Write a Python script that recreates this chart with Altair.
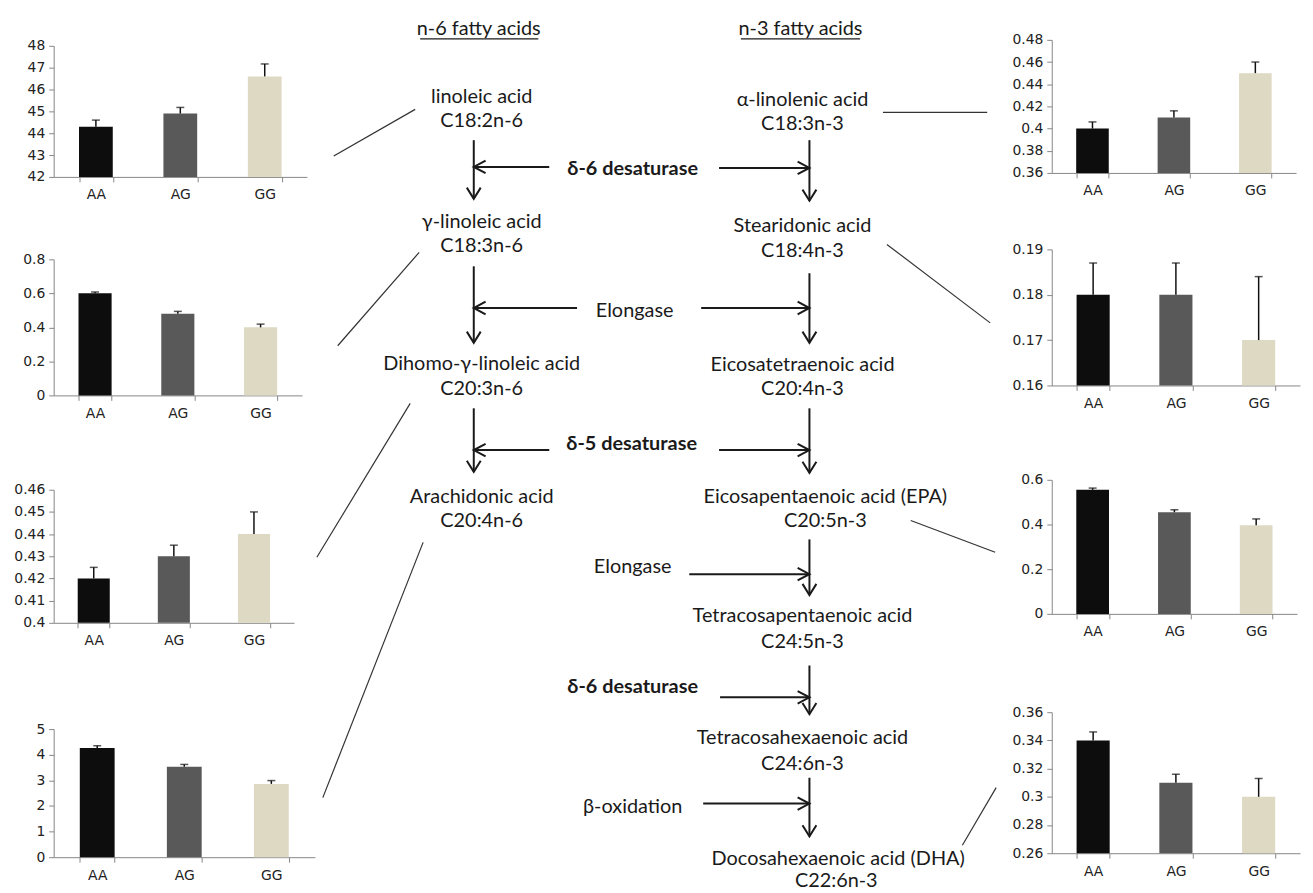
import altair as alt
import pandas as pd

genotypes = ["AA", "AG", "GG"]

# ---- n-6 panels (left column) ----
la_vals = [44.3, 44.9, 46.6]
la_err = [0.30, 0.28, 0.57]
la_ticks = [42, 43, 44, 45, 46, 47, 48]

gla_vals = [0.60, 0.48, 0.40]
gla_err = [0.008, 0.014, 0.019]
gla_ticks = [0, 0.2, 0.4, 0.6, 0.8]

dgla_vals = [0.42, 0.43, 0.44]
dgla_err = [0.005, 0.005, 0.01]
dgla_ticks = [0.4, 0.41, 0.42, 0.43, 0.44, 0.45, 0.46]

ara_vals = [4.26, 3.53, 2.86]
ara_err = [0.09, 0.09, 0.13]
ara_ticks = [0, 1, 2, 3, 4, 5]

# ---- n-3 panels (right column) ----
ala_vals = [0.40, 0.41, 0.45]
ala_err = [0.006, 0.006, 0.01]
ala_ticks = [0.36, 0.38, 0.4, 0.42, 0.44, 0.46, 0.48]

sda_vals = [0.18, 0.18, 0.17]
sda_err = [0.007, 0.007, 0.014]
sda_ticks = [0.16, 0.17, 0.18, 0.19]

epa_vals = [0.555, 0.455, 0.397]
epa_err = [0.008, 0.011, 0.028]
epa_ticks = [0, 0.2, 0.4, 0.6]

dha_vals = [0.34, 0.31, 0.30]
dha_err = [0.006, 0.006, 0.013]
dha_ticks = [0.26, 0.28, 0.3, 0.32, 0.34, 0.36]

base_colors = ["#0d0d0d", "#595959", "#ddd9c3"]

# ---- pathway diagram text ----
labels = [
    "n-6 fatty acids", "n-3 fatty acids",
    "linoleic acid", "C18:2n-6", "α-linolenic acid", "C18:3n-3",
    "γ-linoleic acid", "C18:3n-6", "Stearidonic acid", "C18:4n-3",
    "Elongase",
    "Dihomo-γ-linoleic acid", "C20:3n-6", "Eicosatetraenoic acid", "C20:4n-3",
    "Arachidonic acid", "C20:4n-6", "Eicosapentaenoic acid (EPA)", "C20:5n-3",
    "Elongase",
    "Tetracosapentaenoic acid", "C24:5n-3",
    "Tetracosahexaenoic acid", "C24:6n-3",
    "β-oxidation",
    "Docosahexaenoic acid (DHA)", "C22:6n-3",
]
bold_labels = ["δ-6 desaturase", "δ-5 desaturase", "δ-6 desaturase"]

# layout of the diagram (reference pixel space)
lab_x = [480, 804, 483, 483, 806, 806, 483, 483, 806, 806, 637,
         483, 483, 806, 806, 483, 483, 829, 829, 635, 806, 806, 806, 806,
         635, 842, 840]
lab_y = [23, 23, 92, 116, 95, 119, 217, 242, 221, 247, 307,
         360, 386, 361, 386, 494, 519, 494, 519, 565, 614, 640, 737, 763,
         807, 859, 881]
bold_x = [635, 634, 635]
bold_y = [164, 441, 686]

ul_x1 = [421, 744]
ul_x2 = [540, 864]
ul_y = [33, 33]

# vertical arrows: x, top, tip
v_x = [475, 813, 475, 813, 475, 813, 813, 813, 813]
v_top = [135, 135, 262, 269, 405, 405, 537, 664, 777]
v_tip = [194, 196, 339, 339, 469, 470, 593, 713, 836]
# horizontal arrows: start, tip, y
h_start = [551, 722, 579, 704, 551, 722, 692, 723, 706]
h_tip = [475, 813, 475, 813, 475, 813, 813, 813, 813]
h_y = [162, 163, 304, 304, 447, 447, 572, 696, 803]

# connector lines to panels
c_x1 = [334, 338, 317, 323, 887, 891, 915, 967]
c_y1 = [151, 342, 555, 797, 107, 240, 518, 845]
c_x2 = [416, 420, 411, 424, 992, 995, 1000, 1001]
c_y2 = [104, 248, 400, 540, 107, 319, 550, 787]

AXIS_GRAY = "#868686"
TICK_FONT = "DejaVu Sans"
TICK_SIZE = 14
DIA_FONT = "Lato, 'Noto Sans', sans-serif"


def bar_panel(vals, errs, ticks, width, height, colors=base_colors):
    df = pd.DataFrame({"g": genotypes, "v": vals, "e": errs})
    df["top"] = df["v"] + df["e"]
    lo, hi = ticks[0], ticks[-1]
    xscale = alt.Scale(domain=genotypes, paddingInner=0.6, paddingOuter=0.3)
    xaxis = alt.Axis(labelAngle=0, tickBand="extent", tickSize=5,
                     domainColor=AXIS_GRAY, tickColor=AXIS_GRAY,
                     labelPadding=6, labelFont=TICK_FONT, labelFontSize=TICK_SIZE,
                     labelColor="#222")
    yscale = alt.Scale(domain=[lo, hi], nice=False, zero=False)
    yaxis = alt.Axis(values=ticks, format="~g", grid=False, tickSize=5,
                     labelOverlap=False, labelBound=False,
                     domainColor=AXIS_GRAY, tickColor=AXIS_GRAY, labelPadding=4,
                     labelFont=TICK_FONT, labelFontSize=TICK_SIZE, labelColor="#222")
    xe = alt.X("g:N", sort=genotypes, title=None, scale=xscale, axis=xaxis)
    base = alt.Chart(df)
    bars = base.mark_bar().encode(
        x=xe,
        y=alt.Y("v:Q", scale=yscale, axis=yaxis, title=None),
        y2=alt.datum(lo),
        color=alt.Color("g:N", scale=alt.Scale(domain=genotypes, range=colors), legend=None),
    )
    stem = base.mark_rule(color="#111", strokeWidth=1.5).encode(
        x=xe,
        y=alt.Y("v:Q", scale=yscale, axis=yaxis, title=None), y2="top:Q")
    cap = base.mark_tick(color="#111", thickness=1.5, size=8).encode(
        x=xe, y=alt.Y("top:Q", scale=yscale, axis=yaxis, title=None))
    return alt.layer(bars, stem, cap).properties(width=width, height=height)


def spacer(width, height):
    return alt.Chart(pd.DataFrame({"s": [0]})).mark_point(opacity=0).encode(
        x=alt.X("s:Q", axis=None), y=alt.Y("s:Q", axis=None)
    ).properties(width=width, height=height)


TOP = 8          # target y of the top of every column
c1 = bar_panel(la_vals, la_err, la_ticks, 255, 132)
c2 = bar_panel(gla_vals, gla_err, gla_ticks, 250, 137)
c3 = bar_panel(dgla_vals, dgla_err, dgla_ticks, 242, 134)
c4 = bar_panel(ara_vals, ara_err, ara_ticks, 263, 129)

r1 = bar_panel(ala_vals, ala_err, ala_ticks, 246, 134, ["#0d0d0d", "#3f3f3f", "#ddd9c3"])
r2 = bar_panel(sda_vals, sda_err, sda_ticks, 250, 137)
r3 = bar_panel(epa_vals, epa_err, epa_ticks, 247, 135)
r4 = bar_panel(dha_vals, dha_err, dha_ticks, 250, 142, ["#262626", "#595959", "#ddd9c3"])

left = alt.vconcat(
    spacer(263, 1),
    alt.vconcat(c1,
                alt.vconcat(c2, alt.vconcat(c3, c4, spacing=107, bounds="flush"),
                            spacing=95, bounds="flush"),
                spacing=83, bounds="flush"),
    spacing=40 - TOP - 1, bounds="flush")

right = alt.vconcat(
    spacer(250, 1),
    alt.vconcat(r1,
                alt.vconcat(r2, alt.vconcat(r3, r4, spacing=99, bounds="flush"),
                            spacing=95, bounds="flush"),
                spacing=77, bounds="flush"),
    spacing=34 - TOP - 1, bounds="flush")

# ---- center diagram ----
X0, X1, Y0, Y1 = 317, 1015, TOP, 893
xs = alt.Scale(domain=[X0, X1], nice=False, zero=False)
ys = alt.Scale(domain=[Y0, Y1], nice=False, zero=False, reverse=True)
INK = "#1a1a1a"

txt_df = pd.DataFrame({"label": labels, "x": lab_x, "y": lab_y})
bold_df = pd.DataFrame({"label": bold_labels, "x": bold_x, "y": bold_y})
ul_df = pd.DataFrame({"x1": ul_x1, "x2": ul_x2, "y": ul_y})
v_df = pd.DataFrame({"x": v_x, "y1": v_top, "y2": v_tip})
h_df = pd.DataFrame({"x1": h_start, "x2": h_tip, "y": h_y})
h_df["dir"] = ["L" if a > b else "R" for a, b in zip(h_start, h_tip)]
c_df = pd.DataFrame({"x1": c_x1, "y1": c_y1, "x2": c_x2, "y2": c_y2})

X = lambda f: alt.X(f, scale=xs, axis=None)
Y = lambda f: alt.Y(f, scale=ys, axis=None)

conn = alt.Chart(c_df).mark_rule(color="#333", strokeWidth=1.2).encode(
    x=X("x1:Q"), y=Y("y1:Q"), x2="x2:Q", y2="y2:Q")
under = alt.Chart(ul_df).mark_rule(color=INK, strokeWidth=1.2).encode(
    x=X("x1:Q"), x2="x2:Q", y=Y("y:Q"))
vshaft = alt.Chart(v_df).mark_rule(color=INK, strokeWidth=2).encode(
    x=X("x:Q"), y=Y("y1:Q"), y2="y2:Q")
hshaft = alt.Chart(h_df).mark_rule(color=INK, strokeWidth=2).encode(
    x=X("x1:Q"), x2="x2:Q", y=Y("y:Q"))
vhead = alt.Chart(v_df).mark_point(shape="M-1,-1.6L0,0L1,-1.6", size=196, filled=False,
                                   strokeWidth=2, color=INK, opacity=1).encode(
    x=X("x:Q"), y=Y("y2:Q"))
lhead = alt.Chart(h_df).transform_filter("datum.dir == 'L'").mark_point(
    shape="M1.7,-0.9L0,0L1.7,0.9", size=196, filled=False, strokeWidth=2,
    color=INK, opacity=1).encode(x=X("x2:Q"), y=Y("y:Q"))
rhead = alt.Chart(h_df).transform_filter("datum.dir == 'R'").mark_point(
    shape="M-1.7,-0.9L0,0L-1.7,0.9", size=196, filled=False, strokeWidth=2,
    color=INK, opacity=1).encode(x=X("x2:Q"), y=Y("y:Q"))
tnorm = alt.Chart(txt_df).mark_text(font=DIA_FONT, fontSize=20, color=INK,
                                    align="center", baseline="middle").encode(
    x=X("x:Q"), y=Y("y:Q"), text="label:N")
tbold = alt.Chart(bold_df).mark_text(font=DIA_FONT, fontSize=20, fontWeight="bold",
                                     color=INK, align="center", baseline="middle").encode(
    x=X("x:Q"), y=Y("y:Q"), text="label:N")

center = alt.layer(conn, under, vshaft, hshaft, vhead, lhead, rhead, tnorm, tbold).properties(
    width=X1 - X0, height=Y1 - Y0)

chart = alt.hconcat(left, center, right, spacing=1).properties(
    padding={"left": 5, "top": 0, "right": 5, "bottom": 0},
    background="white",
).configure_view(strokeWidth=0, stroke="transparent")

chart.save("out.html", embed_options={"renderer": "svg", "actions": False})
